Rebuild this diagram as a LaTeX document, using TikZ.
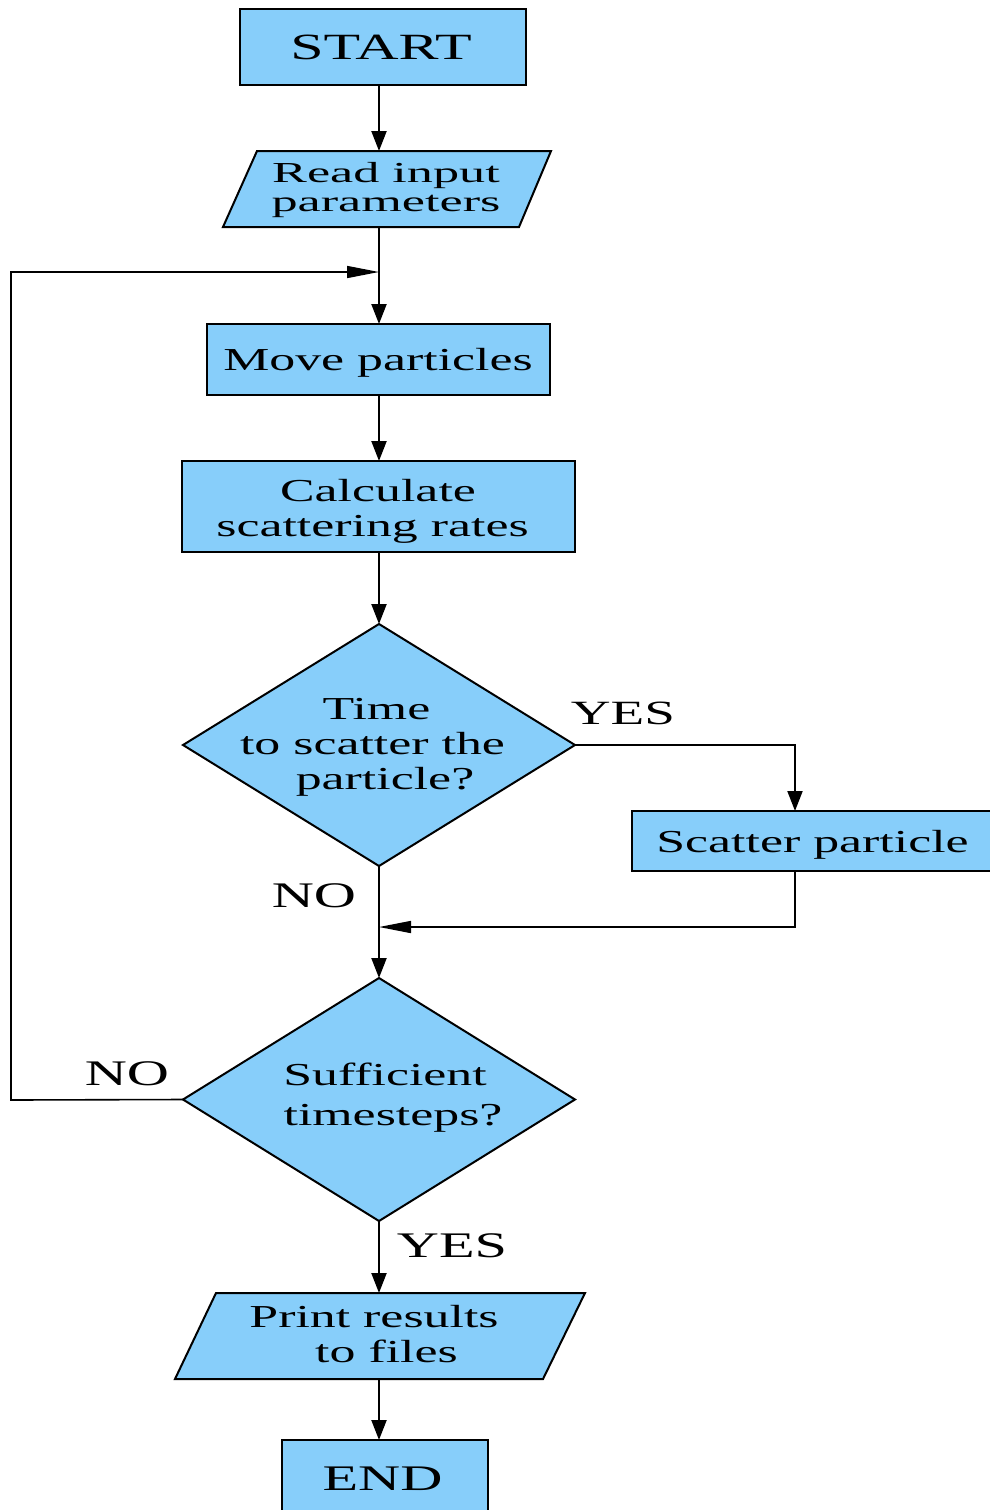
\documentclass[tikz,border=0pt]{standalone}
\usepackage{fontspec}
\setmainfont{Liberation Serif}[FakeStretch=1.62]
\newfontfamily\wideserif{Liberation Serif}[FakeStretch=1.8]
\usetikzlibrary{shapes.geometric,arrows.meta}
\definecolor{skyb}{HTML}{87CEFA}
\begin{document}
\begin{tikzpicture}[x=0.5pt,y=-0.5pt,
  shapefill/.style={draw=black, fill=skyb, line width=1pt},
  rectbox/.style={shapefill, rectangle, inner sep=0pt, outer sep=0pt},
  decbox/.style={shapefill, diamond, inner sep=0pt, outer sep=0pt},
  txt/.style={inner sep=0pt, outer sep=0pt, align=center},
  boxtxt/.style={txt, font=\fontsize{16}{17.5}\selectfont},
  bigtxt/.style={txt, font=\fontsize{18.5}{20}\selectfont},
  lbl/.style={txt, font=\fontsize{18}{20}\selectfont},
  conn/.style={line width=1.1pt, -{Triangle[length=10pt,width=7.5pt]}},
  hconn/.style={line width=0.8pt, -{Triangle[length=16pt,width=6pt]}}]
\useasboundingbox (0,0) rectangle (990,1510);

% shapes
\node[rectbox, minimum width=143pt, minimum height=38pt] (start) at (383,47) {};
\path[shapefill] (257,151) -- (551,151) -- (519,227) -- (223,227) -- cycle;
\coordinate (rinn) at (379,151);
\coordinate (rins) at (379,227);
\node[rectbox, minimum width=171.5pt, minimum height=35.5pt] (move) at (378.5,359.5) {};
\node[rectbox, minimum width=196.5pt, minimum height=45.5pt] (calc) at (378.5,506.5) {};
\node[decbox, minimum width=196pt, minimum height=121pt] (d1) at (379,745) {};
\node[rectbox, minimum width=180.5pt, minimum height=30pt] (scat) at (812.5,841) {};
\node[decbox, minimum width=196pt, minimum height=121.5pt] (d2) at (379,1099.5) {};
\path[shapefill] (216,1293) -- (585,1293) -- (543,1379) -- (175,1379) -- cycle;
\coordinate (prn) at (379,1293);
\coordinate (prs) at (379,1379);
\node[rectbox, minimum width=103pt, minimum height=38.5pt] (end) at (385,1478.5) {};

% texts
\node[bigtxt] (startt) at (381,47.5) {START};
\node[txt, font=\wideserif\fontsize{14.5}{14.5}\selectfont] (rint) at (386,190.5) {Read input\\parameters};
\node[boxtxt] (movet) at (378,362.5) {Move particles};
\node[boxtxt] (calct) at (372.5,511.7) {\hspace*{5.5pt}Calculate\\scattering rates};
\node[boxtxt] (d1t) at (372.5,747.5) {\hspace*{4pt}Time\\to scatter the\\\hspace*{12.5pt}particle?};
\node[boxtxt] (scatt) at (812.5,845.2) {Scatter particle};
\node[txt, font=\fontsize{16}{20}\selectfont] (d2t) at (393,1097.5) {Sufficient\hspace*{8pt}\\timesteps?};
\node[boxtxt] (prt) at (374,1334.5) {Print results\\\hspace*{12.5pt}to files};
\node[lbl] (endt) at (382.5,1478.7) {END};

% labels
\node[txt, font=\fontsize{17}{20}\selectfont] (yes1) at (623,713.3) {YES};
\node[lbl] (no1) at (314,895.3) {NO};
\node[lbl] (no2) at (127,1073.3) {NO};
\node[lbl] (yes2) at (452,1245.8) {YES};

% connectors
\coordinate (loopin) at (379,272);
\coordinate (loopc) at (11,1100);
\coordinate (scin) at (795,811);
\coordinate (scout) at (795,871);
\coordinate (merge) at (379,927);

\draw[conn] (start.south -| rinn) -- (rinn);
\draw[conn] (rins) -- (rins |- move.north);
\draw[conn] (move.south -| rins) -- (rins |- calc.north);
\draw[conn] (calc.south -| rins) -- (d1.north);
\draw[conn] (d1.south) -- (d2.north);
\draw[conn] (d2.south) -- (prn);
\draw[conn] (prs) -- (prs |- end.north);
\draw[line width=1pt, -{Triangle[length=10pt,width=7.5pt]}] (d1.east) -| (scin);
\draw[hconn] (scout) |- (merge);
\draw[hconn] (d2.west) -- (loopc) |- (loopin);
\end{tikzpicture}
\end{document}
